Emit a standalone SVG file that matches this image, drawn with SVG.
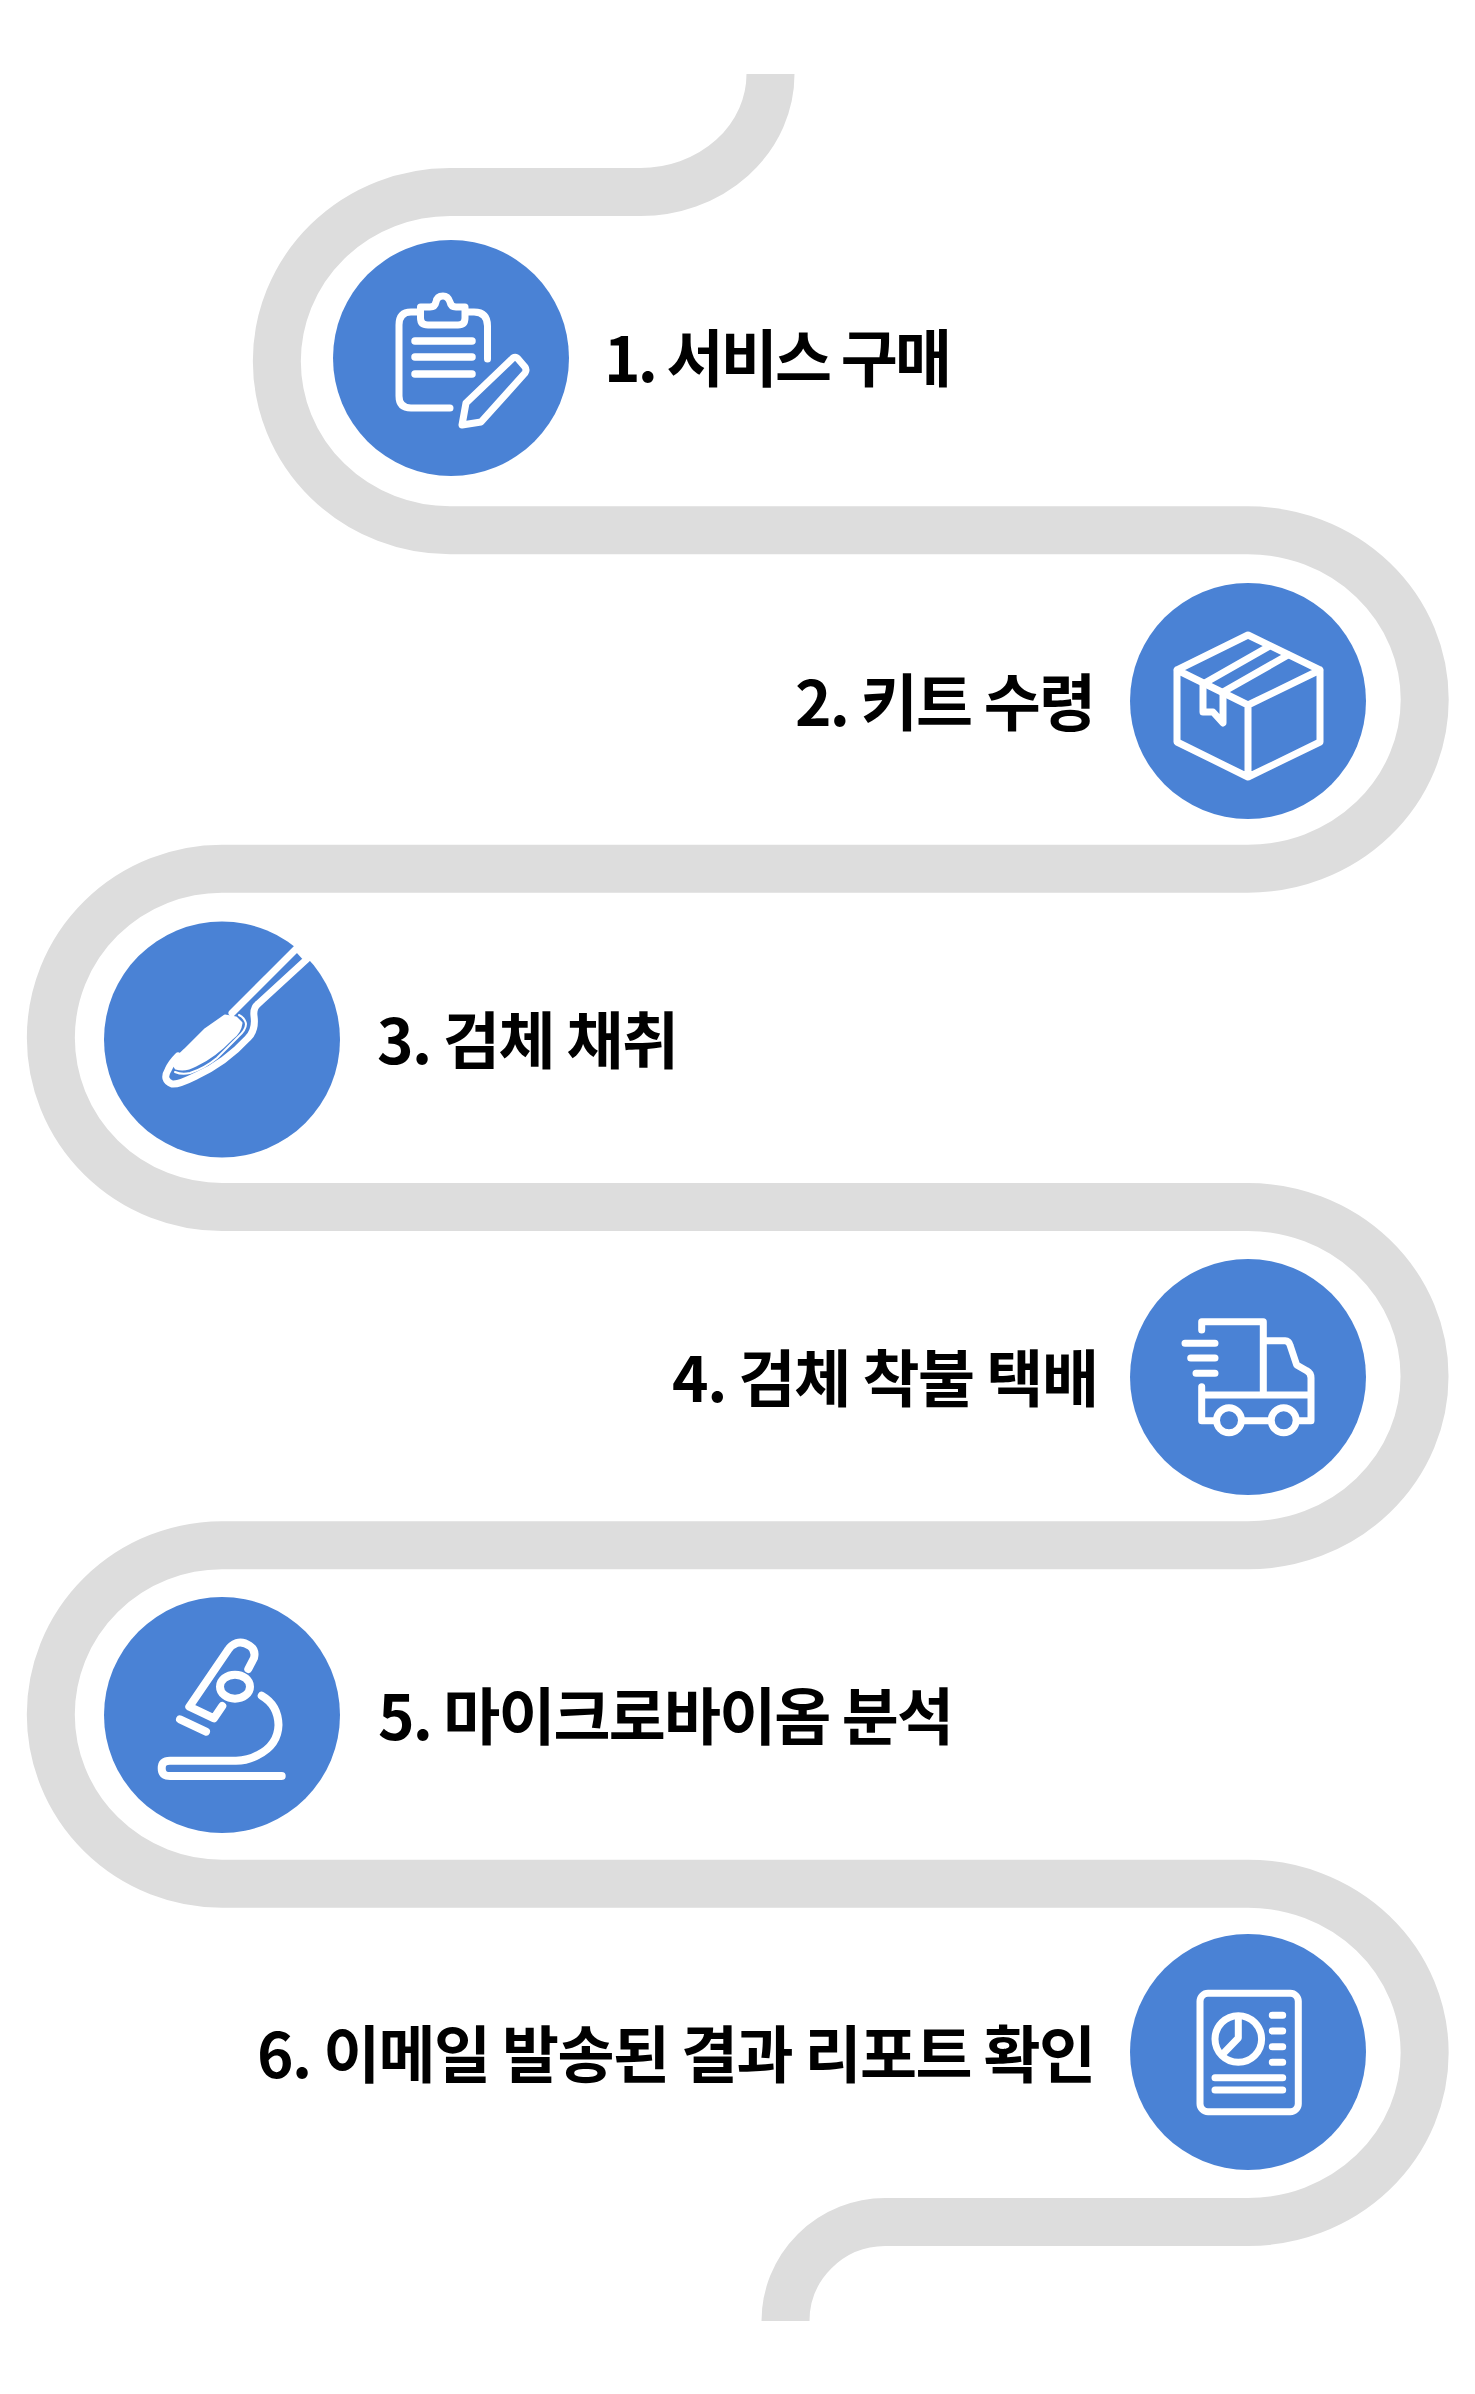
<svg xmlns="http://www.w3.org/2000/svg" width="1475" height="2394" viewBox="0 0 1475 2394">
<style>
.track{fill:none;stroke:#dddddd;stroke-width:48}
.disc{fill:#4a82d5}
.ic{fill:none;stroke:#fff;stroke-width:7;stroke-linecap:round;stroke-linejoin:round}
.lb{font-family:"Noto Sans CJK KR","Noto Sans",sans-serif;font-size:62px;font-weight:700;fill:#000}
</style>
<rect width="1475" height="2394" fill="#fff"/>
<g id="connectors">
<path class="track" d="M770.5 74 A130 118 0 0 1 640 192 H450 A173 169 0 0 0 450 530.3 H1248 A176.5 169 0 0 1 1248 868.7 H222 A171 169 0 0 0 222 1207 H1248 A176.5 169 0 0 1 1248 1545.3 H222 A171 169 0 0 0 222 1883.7 H1248 A176.5 169 0 0 1 1248 2222 H885 A100 99 0 0 0 785.5 2321"/>
</g>
<g id="node1">
<circle class="disc" cx="451" cy="358" r="118"/>
<g class="ic">
<path d="M487.5 359 V326 Q487.5 312 474 312 H466 M450 408 H411 Q399 408 399 396 V325 Q399 312 411 312 H420"/>
<path d="M420.5 307 V318 Q420.5 325 428 325 H458 Q465 325 465 318 V307 H456 Q451 307 450 302 Q448 296 443 296 Q437 296 436 302 Q435 307 430 307 Z"/>
<path d="M415 341 H472 M415 357 H472 M415 374 H472" stroke-width="7.5"/>
<path d="M513 358 Q516 356 519 360 L525 367 Q527 370 525 373 L481 422 L462 425 L466 403 Z"/>
</g>
<text class="lb" x="604" y="382" textLength="348">1. 서비스 구매</text>
</g>
<g id="node2">
<circle class="disc" cx="1248" cy="701" r="118"/>
<g class="ic">
<path d="M1248 635 L1320 670 V742 L1248 777 L1177 742 V670 Z M1177 670 L1248 705 L1320 670 M1248 705 V777"/>
<path d="M1203 684 L1268 647 M1223 692 L1288 655 M1203 684 V712 H1213 L1223 723 V692"/>
</g>
<text class="lb" x="795" y="726" textLength="301">2. 키트 수령</text>
</g>
<g id="node3">
<circle class="disc" cx="222" cy="1039.5" r="118"/>
<g class="ic">
<path d="M297 948 L232 1013 M307 959 L258 1004 Q253 1008 254 1016 Q256 1030 248 1038 Q225 1063 196 1076 Q178 1085 172 1084 Q162 1080 168 1070 Q171 1063 178 1056 M297 948 L307 959"/>
<path d="M225 1016 L236 1018 L241 1023 Q240 1032 232 1038 Q215 1056 196 1065 Q185 1071 176 1068 L173 1063 Q178 1056 185 1050 L205 1030 Z" fill="#fff" stroke-width="3"/>
<path d="M175 1072 Q182 1075 190 1073 Q205 1068 217 1058 L238 1037 Q246 1030 246 1024 Q245 1018 239 1015" stroke-width="2"/>
</g>
<text class="lb" x="377" y="1064" textLength="302">3. 검체 채취</text>
</g>
<g id="node4">
<circle class="disc" cx="1248" cy="1377" r="118"/>
<g class="ic">
<path d="M1201.7 1330 V1321.7 H1263.3 V1395 M1263.3 1340.7 H1285 Q1289 1341 1290 1345 L1296.7 1365 L1306.7 1370.7 Q1311 1373 1311 1378 V1420.7 H1298 M1201.7 1386.7 V1420.7 H1214 M1201.7 1395 H1311 M1243.3 1420.7 H1269.3"/>
<circle cx="1229" cy="1420.3" r="12.5"/>
<circle cx="1283.7" cy="1420.3" r="12.5"/>
<path d="M1185 1343.3 H1215 M1190.7 1358 H1215 M1196 1373.3 H1215"/>
</g>
<text class="lb" x="672" y="1402" textLength="427">4. 검체 착불 택배</text>
</g>
<g id="node5">
<circle class="disc" cx="222" cy="1715" r="118"/>
<g class="ic" style="stroke-width:8">
<path d="M248.3 1669 L254 1658 Q256 1650 250 1646 Q243 1641 236.7 1643 Q231 1645 228 1650 L189.3 1706.7 L214 1718.3 L222.3 1706"/>
<ellipse cx="235" cy="1686.7" rx="15" ry="12"/>
<path d="M180 1719.3 L206 1731.7"/>
<path d="M261.7 1695.7 Q278 1705 278.5 1725 Q278 1745 258 1755 Q248 1760.7 236 1760.7 H170 Q161.7 1760.7 161.7 1768.3 Q161.7 1776 170 1776 H281.7"/>
</g>
<text class="lb" x="378" y="1740" textLength="576">5. 마이크로바이옴 분석</text>
</g>
<g id="node6">
<circle class="disc" cx="1248" cy="2052" r="118"/>
<g class="ic">
<rect x="1200" y="1993.3" width="98.3" height="118.4" rx="8"/>
<circle cx="1238.3" cy="2039" r="23.3"/>
<path d="M1238.3 2018 V2038 L1225 2051.7"/>
<path d="M1272.3 2015.3 H1282.7 M1272.3 2031 H1282.7 M1272.3 2046.7 H1282.7 M1272.3 2062.3 H1282.7 M1215 2077.7 H1282.7 M1215 2090 H1282.7"/>
</g>
<text class="lb" x="257" y="2078" textLength="839">6. 이메일 발송된 결과 리포트 확인</text>
</g>
</svg>
